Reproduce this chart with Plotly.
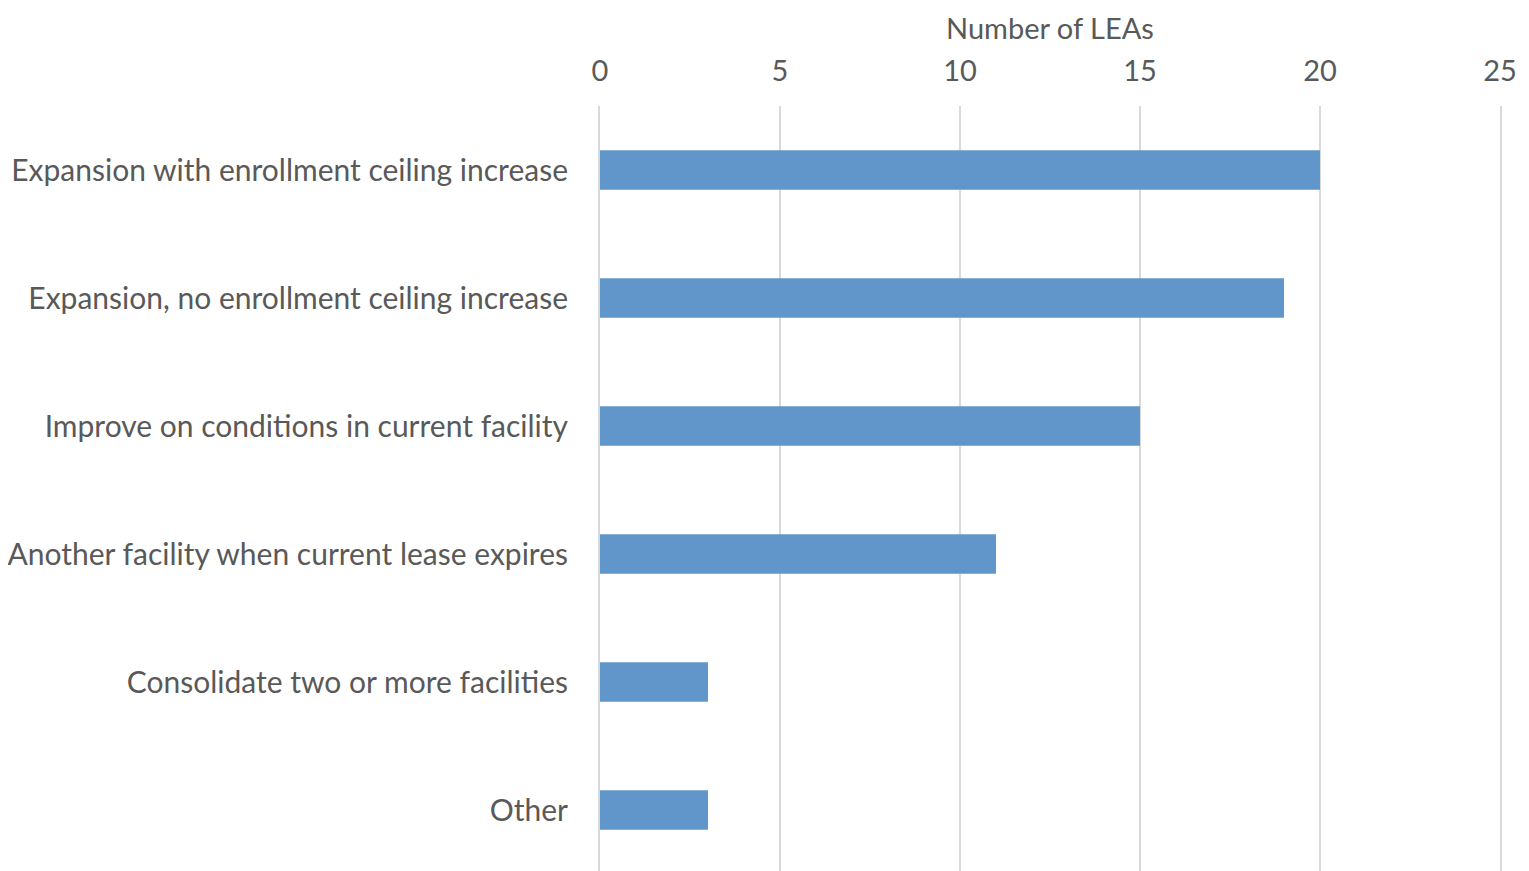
import plotly.graph_objects as go

categories = [
    "Expansion with enrollment ceiling increase",
    "Expansion, no enrollment ceiling increase",
    "Improve on conditions in current facility",
    "Another facility when current lease expires",
    "Consolidate two or more facilities",
    "Other",
]
values = [20, 19, 15, 11, 3, 3]
x_ticks = [0, 5, 10, 15, 20, 25]
x_title = "Number of LEAs"

FONT = "Lato"
TXT = "#595959"
GRID = "#D9D9D9"
FS = 29

fig = go.Figure(go.Bar(
    y=categories, x=values, orientation="h",
    marker=dict(color="#6096C9", line=dict(width=0)),
    width=0.31,
))

fig.update_layout(
    width=1529, height=871,
    margin=dict(l=592, r=37, t=98, b=5),
    paper_bgcolor="white", plot_bgcolor="white",
    font=dict(family=FONT, size=FS, color=TXT),
    showlegend=False,
)
fig.update_xaxes(
    side="top", range=[0, 25], tickvals=x_ticks, automargin=False,
    showgrid=True, gridcolor=GRID, gridwidth=2,
    zeroline=False, showline=False,
    ticks="outside", ticklen=12, tickcolor="rgba(0,0,0,0)",
    tickfont=dict(family=FONT, size=FS, color=TXT),
)
fig.add_annotation(
    text=x_title, xref="paper", yref="paper", x=0.5, y=1,
    xanchor="center", yanchor="top", yshift=97, showarrow=False,
    borderpad=0,
    font=dict(family=FONT, size=FS, color=TXT),
)
fig.update_yaxes(
    categoryorder="array", categoryarray=categories, autorange="reversed",
    automargin=False,
    showgrid=False, zeroline=False,
    showline=True, mirror=True, linecolor=GRID, linewidth=2,
    ticks="outside", ticklen=24, tickcolor="rgba(0,0,0,0)",
    tickfont=dict(family=FONT, size=30, color=TXT),
)

fig.write_html("out.html")
